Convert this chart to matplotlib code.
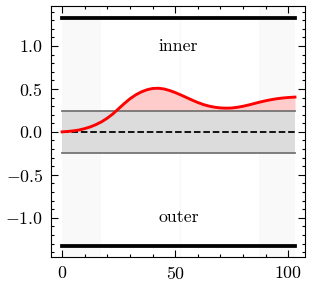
import matplotlib
matplotlib.use("Agg")
import matplotlib.pyplot as plt
from matplotlib.ticker import MultipleLocator

# curve
x = [0, 2.5, 5, 7.5, 10, 12.5, 15, 17.5, 20, 22.5, 25, 27.5, 30, 32.5, 35, 37.5, 40, 42.5, 45,
     47.5, 50, 52.5, 55, 57.5, 60, 62.5, 65, 67.5, 70, 72.5, 75, 77.5, 80, 82.5, 85, 87.5,
     90, 92.5, 95, 97.5, 100, 103]
y = [0.0, 0.005, 0.012, 0.022, 0.038, 0.058, 0.085, 0.118, 0.16, 0.21, 0.27, 0.33, 0.385,
     0.43, 0.465, 0.49, 0.505, 0.508, 0.5, 0.482, 0.458, 0.43, 0.4, 0.37, 0.342, 0.318,
     0.3, 0.287, 0.279, 0.276, 0.278, 0.286, 0.298, 0.313, 0.33, 0.347, 0.362, 0.375,
     0.386, 0.394, 0.4, 0.405]

x_start, x_end = 0, 103
wall = 1.326
band = 0.242
shade_left = (0, 17)
shade_right = (87, 103)
mid_line = 52

plt.rcParams.update({
    "font.family": "serif",
    "font.serif": ["cmr10"],
    "mathtext.fontset": "cm",
    "axes.formatter.use_mathtext": True,
    "font.size": 8,
    "axes.linewidth": 0.5,
    "xtick.direction": "in", "ytick.direction": "in",
    "xtick.top": True, "ytick.right": True,
    "xtick.major.size": 3, "ytick.major.size": 3,
    "xtick.minor.size": 1.5, "ytick.minor.size": 1.5,
    "xtick.major.width": 0.5, "ytick.major.width": 0.5,
    "xtick.minor.width": 0.5, "ytick.minor.width": 0.5,
    "xtick.minor.visible": True, "ytick.minor.visible": True,
})

fig = plt.figure(figsize=(315 / 160, 287 / 160), dpi=160)
ax = fig.add_axes([0.162, 0.105, 0.806, 0.874])

ax.axvspan(*shade_left, color="0.975", lw=0, zorder=0)
ax.axvspan(*shade_right, color="0.975", lw=0, zorder=0)
ax.axvline(mid_line, color="0.975", lw=0.6, zorder=0)

ax.fill_between([x_start, x_end], -band, band, color="#dcdcdc", lw=0, zorder=1)
# pink area between the curve and the top of the band
ax.fill_between(x, band, y, where=[v > band for v in y], interpolate=True,
                color="#ffcccc", lw=0, zorder=1.5)
ax.plot([x_start, x_end], [band, band], color="0.45", lw=0.8, zorder=2)
ax.plot([x_start, x_end], [-band, -band], color="0.45", lw=0.8, zorder=2)
ax.plot([x_start, x_end], [0, 0], "k--", lw=0.8, zorder=3)

ax.plot(x, y, color="red", lw=1.3, zorder=4)

ax.plot([x_start, x_end], [wall, wall], color="k", lw=1.7, zorder=4)
ax.plot([x_start, x_end], [-wall, -wall], color="k", lw=1.7, zorder=4)

ax.text(51.5, 1.0, "inner", ha="center", va="center")
ax.text(51.5, -1.0, "outer", ha="center", va="center")

ax.set_xlim(-4.9, 107.4)
ax.set_ylim(-1.455, 1.465)
ax.xaxis.set_major_locator(MultipleLocator(50))
ax.xaxis.set_minor_locator(MultipleLocator(10))
ax.yaxis.set_major_locator(MultipleLocator(0.5))
ax.yaxis.set_minor_locator(MultipleLocator(0.1))

fig.savefig("out.png", dpi=160)
